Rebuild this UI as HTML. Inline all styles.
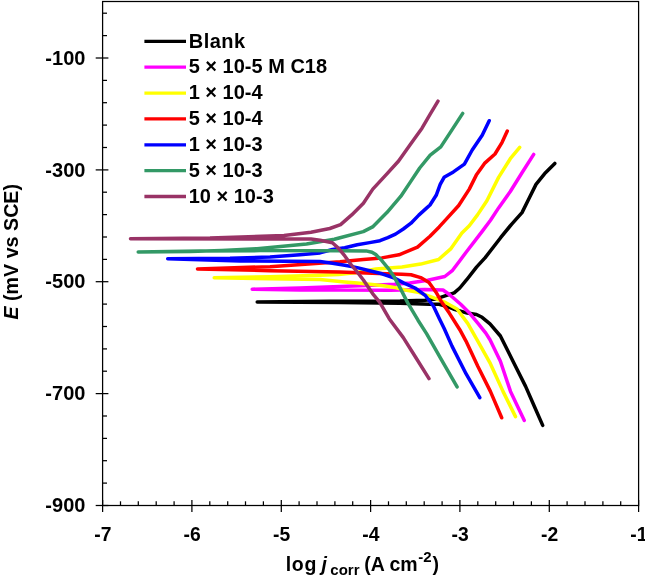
<!DOCTYPE html>
<html><head><meta charset="utf-8"><title>Polarization curves</title>
<style>
html,body{margin:0;padding:0;background:#fff;}
svg{display:block;}
text{font-family:"Liberation Sans",Arial,sans-serif;font-weight:bold;fill:#000;}
</style></head><body>
<svg width="645" height="576" viewBox="0 0 645 576">
<rect x="0" y="0" width="645" height="576" fill="#fff"/>

<g stroke="#000" stroke-width="1.25" fill="none">
<rect x="102.6" y="1.5" width="536.0" height="504.0"/>
</g>
<g stroke="#000" stroke-width="1.25" fill="none">
<line x1="102.6" y1="500" x2="102.6" y2="512"/>
<line x1="120.5" y1="501.3" x2="120.5" y2="505.5"/>
<line x1="138.3" y1="501.3" x2="138.3" y2="505.5"/>
<line x1="156.2" y1="501.3" x2="156.2" y2="505.5"/>
<line x1="174.1" y1="501.3" x2="174.1" y2="505.5"/>
<line x1="191.9" y1="500" x2="191.9" y2="512"/>
<line x1="209.8" y1="501.3" x2="209.8" y2="505.5"/>
<line x1="227.7" y1="501.3" x2="227.7" y2="505.5"/>
<line x1="245.5" y1="501.3" x2="245.5" y2="505.5"/>
<line x1="263.4" y1="501.3" x2="263.4" y2="505.5"/>
<line x1="281.3" y1="500" x2="281.3" y2="512"/>
<line x1="299.1" y1="501.3" x2="299.1" y2="505.5"/>
<line x1="317.0" y1="501.3" x2="317.0" y2="505.5"/>
<line x1="334.9" y1="501.3" x2="334.9" y2="505.5"/>
<line x1="352.7" y1="501.3" x2="352.7" y2="505.5"/>
<line x1="370.6" y1="500" x2="370.6" y2="512"/>
<line x1="388.5" y1="501.3" x2="388.5" y2="505.5"/>
<line x1="406.3" y1="501.3" x2="406.3" y2="505.5"/>
<line x1="424.2" y1="501.3" x2="424.2" y2="505.5"/>
<line x1="442.1" y1="501.3" x2="442.1" y2="505.5"/>
<line x1="459.9" y1="500" x2="459.9" y2="512"/>
<line x1="477.8" y1="501.3" x2="477.8" y2="505.5"/>
<line x1="495.7" y1="501.3" x2="495.7" y2="505.5"/>
<line x1="513.5" y1="501.3" x2="513.5" y2="505.5"/>
<line x1="531.4" y1="501.3" x2="531.4" y2="505.5"/>
<line x1="549.3" y1="500" x2="549.3" y2="512"/>
<line x1="567.1" y1="501.3" x2="567.1" y2="505.5"/>
<line x1="585.0" y1="501.3" x2="585.0" y2="505.5"/>
<line x1="602.9" y1="501.3" x2="602.9" y2="505.5"/>
<line x1="620.7" y1="501.3" x2="620.7" y2="505.5"/>
<line x1="638.6" y1="500" x2="638.6" y2="512"/>
<line x1="95.7" y1="505.5" x2="108.4" y2="505.5"/>
<line x1="102.6" y1="483.1" x2="107" y2="483.1"/>
<line x1="102.6" y1="460.7" x2="107" y2="460.7"/>
<line x1="102.6" y1="438.4" x2="107" y2="438.4"/>
<line x1="102.6" y1="416.0" x2="107" y2="416.0"/>
<line x1="95.7" y1="393.6" x2="108.4" y2="393.6"/>
<line x1="102.6" y1="371.2" x2="107" y2="371.2"/>
<line x1="102.6" y1="348.9" x2="107" y2="348.9"/>
<line x1="102.6" y1="326.5" x2="107" y2="326.5"/>
<line x1="102.6" y1="304.1" x2="107" y2="304.1"/>
<line x1="95.7" y1="281.7" x2="108.4" y2="281.7"/>
<line x1="102.6" y1="259.4" x2="107" y2="259.4"/>
<line x1="102.6" y1="237.0" x2="107" y2="237.0"/>
<line x1="102.6" y1="214.6" x2="107" y2="214.6"/>
<line x1="102.6" y1="192.2" x2="107" y2="192.2"/>
<line x1="95.7" y1="169.9" x2="108.4" y2="169.9"/>
<line x1="102.6" y1="147.5" x2="107" y2="147.5"/>
<line x1="102.6" y1="125.1" x2="107" y2="125.1"/>
<line x1="102.6" y1="102.7" x2="107" y2="102.7"/>
<line x1="102.6" y1="80.4" x2="107" y2="80.4"/>
<line x1="95.7" y1="58.0" x2="108.4" y2="58.0"/>
<line x1="102.6" y1="35.6" x2="107" y2="35.6"/>
<line x1="102.6" y1="13.2" x2="107" y2="13.2"/>
</g>
<g fill="none" stroke-width="3.5" stroke-linejoin="round" stroke-linecap="round">
<polyline stroke="#000000" points="554.8,163.4 545.5,172.7 536.0,184.4 529.0,198.5 522.0,212.6 511.5,224.3 500.6,237.7 485.0,257.9 476.5,267.1 466.7,279.7 459.8,288.0 454.2,292.9 445.8,295.7 436.0,298.9 425.0,300.2 400.0,301.0 330.0,301.3 257.2,301.9 340.0,302.5 400.0,303.2 430.0,304.3 439.3,304.3 448.6,307.1 453.3,309.0 467.2,313.1 476.5,314.5 482.1,317.3 490.0,323.8 500.4,336.0 513.0,361.2 525.6,386.4 534.4,406.5 542.7,425.4"/>
<polyline stroke="#FF00FF" points="533.7,154.4 522.0,172.7 510.3,191.5 498.6,207.9 490.5,220.2 482.0,231.6 466.5,251.7 459.8,260.7 452.6,270.3 444.8,276.5 427.7,280.2 409.8,283.0 394.4,284.3 360.0,285.7 320.0,287.3 300.0,288.1 252.2,289.2 300.0,289.9 340.0,290.0 390.0,290.2 424.9,289.5 443.0,290.0 450.0,295.0 460.7,304.3 470.0,313.6 478.4,323.8 485.8,333.1 490.0,339.7 500.4,361.2 510.5,391.4 524.3,420.4"/>
<polyline stroke="#FFFF00" points="519.7,147.4 510.3,158.7 498.6,177.4 486.9,200.8 477.5,214.9 469.3,225.7 461.9,233.1 451.0,248.6 438.6,259.5 420.6,264.1 402.0,267.0 375.8,269.0 357.0,272.5 338.6,274.4 320.0,275.3 270.0,276.7 214.2,277.7 270.0,278.7 320.0,279.5 344.8,281.9 357.2,283.1 369.6,284.3 382.0,285.6 394.4,287.4 404.0,289.7 418.0,292.2 431.9,297.1 445.8,302.7 457.0,309.0 467.7,323.4 477.8,341.1 490.4,363.7 503.0,391.4 515.5,416.6"/>
<polyline stroke="#FF0000" points="507.3,131.0 502.1,142.3 495.0,154.0 484.5,163.4 476.3,175.1 469.3,189.1 458.7,205.5 447.0,218.4 439.2,226.9 430.0,236.2 417.5,247.1 399.0,254.8 381.9,257.9 363.3,259.5 340.0,261.7 270.0,266.7 197.5,268.9 270.0,270.7 340.0,271.9 378.8,273.4 402.0,274.2 411.0,274.7 420.7,277.6 429.0,282.4 436.0,292.2 441.6,302.0 449.3,313.1 459.8,329.7 466.0,341.1 477.8,366.2 490.4,391.4 501.7,417.8"/>
<polyline stroke="#0000FF" points="489.2,120.7 482.2,135.2 472.2,150.0 464.4,164.1 453.4,171.9 444.1,177.3 440.2,184.4 436.2,195.3 430.0,205.0 426.5,208.1 418.8,215.1 411.0,223.2 403.3,229.0 395.5,234.1 387.8,237.6 380.0,240.7 369.6,242.6 357.2,244.7 344.8,247.8 332.4,249.5 320.0,252.9 300.0,254.7 270.0,257.0 230.0,258.3 167.7,258.7 240.0,261.0 320.0,261.5 332.4,263.3 344.8,265.2 357.2,267.6 369.6,270.7 382.0,273.8 394.4,278.0 404.0,283.1 415.0,288.0 425.5,295.7 433.5,306.2 439.4,318.7 444.2,328.5 452.0,346.1 466.0,373.7 479.8,397.7"/>
<polyline stroke="#339966" points="462.7,113.4 450.0,132.9 440.8,146.9 430.2,155.1 419.7,168.0 410.3,182.1 400.9,196.2 386.9,212.6 372.6,226.9 363.3,231.6 340.0,237.7 334.4,239.3 306.5,244.0 257.0,248.7 222.0,250.4 190.0,251.4 138.2,252.1 200.0,251.0 260.0,250.6 340.0,250.7 366.0,250.9 372.0,252.3 375.8,254.6 382.0,260.8 388.2,268.3 394.4,277.3 398.4,284.7 408.0,303.4 418.0,320.2 426.7,333.9 440.8,358.7 457.1,386.9"/>
<polyline stroke="#993366" points="438.0,101.2 430.2,114.1 422.0,128.2 410.3,144.6 398.6,161.0 386.9,173.9 372.8,189.1 363.4,203.2 351.7,214.9 340.6,224.6 329.8,228.5 311.0,232.3 284.0,235.4 241.0,237.0 210.0,238.0 130.5,238.7 284.0,239.0 311.0,239.1 320.0,240.3 332.4,242.8 338.6,248.4 344.8,255.9 351.0,264.5 357.2,272.0 363.4,280.0 372.6,293.6 379.8,302.4 389.2,318.7 403.3,337.6 415.0,356.3 429.0,378.6"/>
</g>
<g fill="none" stroke-width="3.3">
<line x1="144.4" y1="41.30" x2="186" y2="41.3" stroke="#000000"/>
<line x1="144.4" y1="67.17" x2="186" y2="67.17" stroke="#FF00FF"/>
<line x1="144.4" y1="93.04" x2="186" y2="93.03999999999999" stroke="#FFFF00"/>
<line x1="144.4" y1="118.91" x2="186" y2="118.91" stroke="#FF0000"/>
<line x1="144.4" y1="144.78" x2="186" y2="144.78" stroke="#0000FF"/>
<line x1="144.4" y1="170.65" x2="186" y2="170.64999999999998" stroke="#339966"/>
<line x1="144.4" y1="196.52" x2="186" y2="196.51999999999998" stroke="#993366"/>
</g>
<text x="188.7" y="47.5" font-size="20" letter-spacing="0.5">Blank</text>
<text x="188.7" y="73.4" font-size="20">5 × 10-5 M C18</text>
<text x="188.7" y="99.2" font-size="20">1 × 10-4</text>
<text x="188.7" y="125.1" font-size="20">5 × 10-4</text>
<text x="188.7" y="151.0" font-size="20">1 × 10-3</text>
<text x="188.7" y="176.8" font-size="20">5 × 10-3</text>
<text x="188.7" y="202.7" font-size="20">10 × 10-3</text>
<text x="102.9" y="540.6" font-size="19.3" text-anchor="middle">-7</text>
<text x="192.2" y="540.6" font-size="19.3" text-anchor="middle">-6</text>
<text x="281.6" y="540.6" font-size="19.3" text-anchor="middle">-5</text>
<text x="370.9" y="540.6" font-size="19.3" text-anchor="middle">-4</text>
<text x="460.2" y="540.6" font-size="19.3" text-anchor="middle">-3</text>
<text x="549.6" y="540.6" font-size="19.3" text-anchor="middle">-2</text>
<text x="638.9" y="540.6" font-size="19.3" text-anchor="middle">-1</text>
<text x="85.4" y="512.1" font-size="20" text-anchor="end">-900</text>
<text x="85.4" y="400.2" font-size="20" text-anchor="end">-700</text>
<text x="85.4" y="288.3" font-size="20" text-anchor="end">-500</text>
<text x="85.4" y="176.5" font-size="20" text-anchor="end">-300</text>
<text x="85.4" y="64.6" font-size="20" text-anchor="end">-100</text>
<text x="285.7" y="570.8" font-size="19.5" letter-spacing="0.7">log</text>
<text x="321.5" y="570.8" font-size="19.5" font-style="italic">j</text>
<text x="330.3" y="574.6" font-size="15">corr</text>
<text x="364.2" y="570.8" font-size="19.5">(A cm</text>
<text x="418.2" y="562" font-size="15">-2</text>
<text x="432.5" y="570.8" font-size="19.5">)</text>
<g transform="translate(18,319.5) rotate(-90)"><text x="0" y="0" font-size="20" textLength="135.5" lengthAdjust="spacingAndGlyphs"><tspan font-style="italic">E</tspan> (mV vs SCE)</text></g>
</svg></body></html>
